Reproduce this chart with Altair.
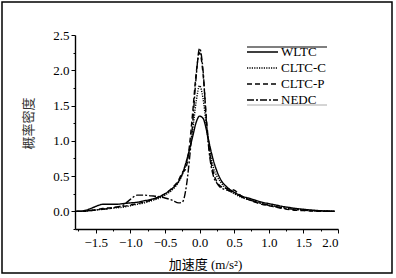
import altair as alt
import pandas as pd

xs = [-1.8, -1.7, -1.6, -1.5, -1.4, -1.3, -1.2, -1.1, -1.0, -0.9, -0.8, -0.7, -0.6, -0.5, -0.4,
      -0.3, -0.25, -0.2, -0.15, -0.1, -0.05, 0.0, 0.05, 0.1, 0.15, 0.2, 0.25, 0.3, 0.4, 0.5,
      0.6, 0.7, 0.8, 0.9, 1.0, 1.1, 1.2, 1.3, 1.4, 1.5, 1.6, 1.7, 1.8, 1.9, 1.95]

wltc = [0.0, 0.005, 0.03, 0.07, 0.1, 0.1, 0.1, 0.11, 0.12, 0.13, 0.15, 0.17, 0.2, 0.25, 0.32,
        0.43, 0.53, 0.68, 0.86, 1.06, 1.26, 1.35, 1.32, 1.15, 0.92, 0.72, 0.57, 0.46, 0.34, 0.27,
        0.22, 0.19, 0.16, 0.13, 0.11, 0.09, 0.07, 0.055, 0.04, 0.03, 0.02, 0.012, 0.006, 0.003, 0.002]

cltc_c = [0.0, 0.0, 0.01, 0.02, 0.03, 0.04, 0.05, 0.06, 0.08, 0.1, 0.12, 0.15, 0.18, 0.23, 0.3,
          0.42, 0.52, 0.65, 0.85, 1.15, 1.55, 1.78, 1.6, 1.2, 0.85, 0.62, 0.5, 0.42, 0.31, 0.25,
          0.2, 0.17, 0.14, 0.11, 0.09, 0.07, 0.055, 0.04, 0.03, 0.02, 0.012, 0.007, 0.004, 0.002, 0.001]

cltc_p = [0.0, 0.0, 0.01, 0.02, 0.04, 0.05, 0.06, 0.07, 0.09, 0.11, 0.13, 0.16, 0.2, 0.25, 0.33,
          0.45, 0.55, 0.6, 0.9, 1.4, 1.95, 2.25, 1.95, 1.3, 0.8, 0.55, 0.42, 0.36, 0.32, 0.3,
          0.22, 0.17, 0.13, 0.1, 0.08, 0.06, 0.04, 0.025, 0.015, 0.01, 0.005, 0.002, 0.001, 0.0, 0.0]

nedc = [0.0, 0.0, 0.01, 0.02, 0.03, 0.04, 0.06, 0.09, 0.17, 0.23, 0.23, 0.22, 0.21, 0.19, 0.16,
        0.12, 0.13, 0.3, 0.7, 1.25, 1.9, 2.31, 2.0, 1.25, 0.75, 0.5, 0.4, 0.34, 0.3, 0.27,
        0.21, 0.17, 0.14, 0.11, 0.085, 0.065, 0.05, 0.035, 0.025, 0.017, 0.01, 0.005, 0.002, 0.001, 0.0]

series_names = ["WLTC", "CLTC-C", "CLTC-P", "NEDC"]
series_values = [wltc, cltc_c, cltc_p, nedc]
dashes = [[1, 0], [1.2, 1.2], [5, 3], [7, 2, 2, 2]]

rows = []
for name, vals in zip(series_names, series_values):
    for x, y in zip(xs, vals):
        rows.append({"x": x, "y": y, "series": name})
df = pd.DataFrame(rows)
legend_df = pd.DataFrame({"series": series_names})

serif = "Liberation Serif"
cjk = "Liberation Serif, Noto Sans CJK SC"

x_ticks = [v / 4 for v in range(-7, 9)]
y_ticks = [v / 4 for v in range(-1, 11)]

dash_scale = alt.Scale(domain=series_names, range=dashes)

lines = alt.Chart(df).mark_line(strokeWidth=1.4, color="black", interpolate="monotone").encode(
    x=alt.X("x:Q", scale=alt.Scale(domain=[-1.8, 2.0], nice=False, zero=False),
            axis=alt.Axis(values=x_ticks, title="加速度 (m/s²)",
                          labelExpr="datum.value % 0.5 === 0 ? format(datum.value, '.1f') : ''",
                          tickSize={"condition": {"test": "datum.value % 0.5 !== 0", "value": 2}, "value": 4},
                          labelFont=serif, labelFontSize=13, labelColor="black", labelPadding=3,
                          titleFont=cjk, titleFontSize=13, titleFontWeight="normal", titleColor="black",
                          titleX=130, titleY=35, titleBaseline="middle", titleAlign="center",
                          domainColor="black", domainWidth=1.4, tickColor="black", tickWidth=1,
                          grid=False)),
    y=alt.Y("y:Q", scale=alt.Scale(domain=[-0.25, 2.5], nice=False, zero=False),
            axis=alt.Axis(values=y_ticks, title="概率密度",
                          labelExpr="datum.value >= 0 && datum.value % 0.5 === 0 ? format(datum.value, '.1f') : ''",
                          tickSize={"condition": {"test": "datum.value % 0.5 !== 0", "value": 2}, "value": 4},
                          labelFont=serif, labelFontSize=13, labelColor="black", labelPadding=2,
                          titleFont=cjk, titleFontSize=13, titleFontWeight="normal", titleColor="#333333",
                          titleX=-47, titleY=88, titleAngle=-90, titleBaseline="middle", titleAlign="center",
                          domainColor="black", domainWidth=1.4, tickColor="black", tickWidth=1,
                          grid=False)),
    strokeDash=alt.StrokeDash("series:N", scale=dash_scale, legend=None),
    detail="series:N",
)

leg_y = alt.Y("series:N", scale=alt.Scale(type="point", domain=series_names, range=[17, 65], padding=0),
              axis=None)

leg_lines = alt.Chart(legend_df).mark_rule(color="black", strokeWidth=1.6).encode(
    x=alt.value(172), x2=alt.value(203), y=leg_y,
    strokeDash=alt.StrokeDash("series:N", scale=dash_scale, legend=None),
)
leg_text = alt.Chart(legend_df).mark_text(align="left", baseline="middle", font=serif, fontSize=13,
                                          color="black").encode(
    x=alt.value(206), y=leg_y, text="series:N"
)

frame_df = pd.DataFrame({"k": [0]})
frame = alt.Chart(frame_df).mark_rect(filled=False, stroke="black", strokeWidth=1.5).encode(
    x=alt.value(-73), x2=alt.value(317), y=alt.value(-33), y2=alt.value(238)
)
leg_top = alt.Chart(frame_df).mark_rule(color="black", strokeWidth=1.2).encode(
    x=alt.value(172), x2=alt.value(252), y=alt.value(12)
)
leg_bot = alt.Chart(frame_df).mark_rule(color="#aaaaaa", strokeWidth=1).encode(
    x=alt.value(172), x2=alt.value(252), y=alt.value(70)
)

chart = alt.layer(lines, leg_lines, leg_text, frame, leg_top, leg_bot).resolve_scale(
    y="independent"
).properties(
    width=263, height=194,
    autosize=alt.AutoSizeParams(type="none"),
    padding={"left": 75, "top": 35, "right": 58, "bottom": 49},
    background="white",
).configure_view(stroke=None)

chart.save("out.html", embed_options={"renderer": "svg", "actions": False})
